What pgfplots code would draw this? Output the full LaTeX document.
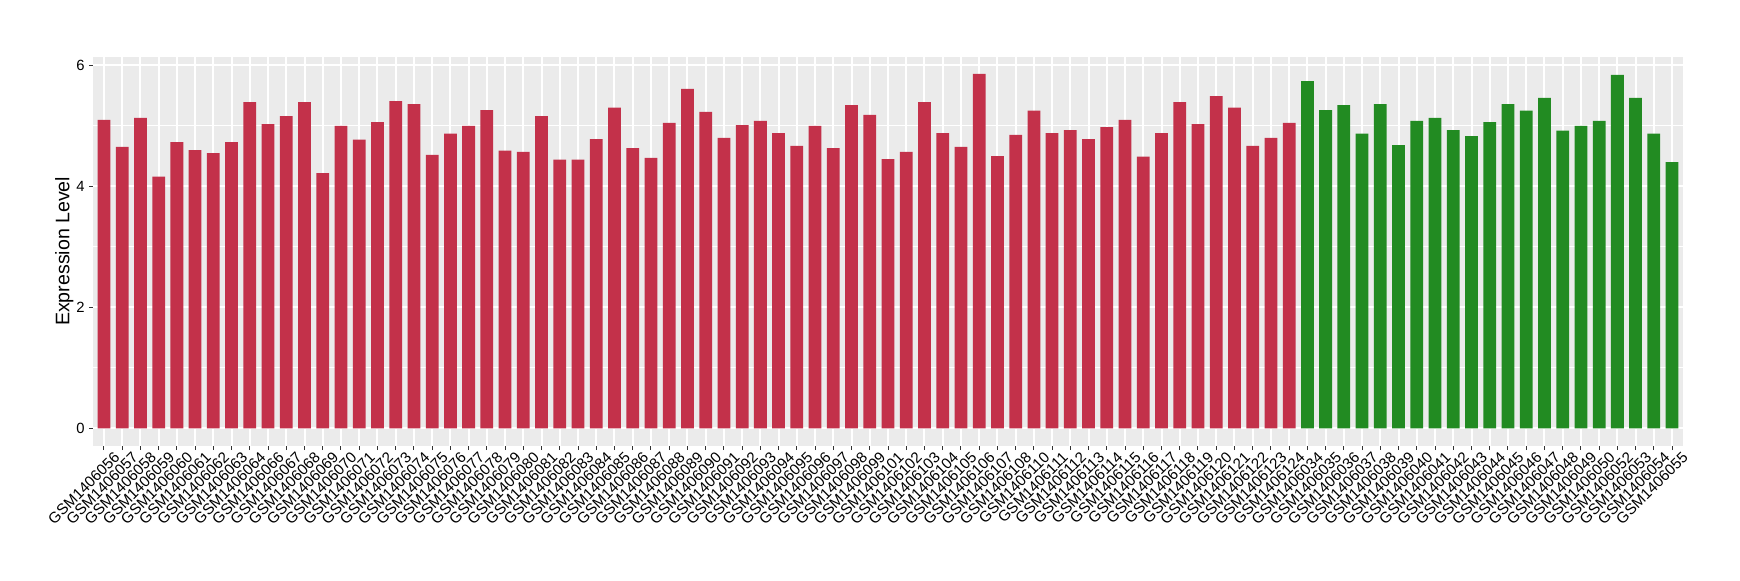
\documentclass[border=0pt]{standalone}
\usepackage{fontspec}
\setmainfont{Liberation Sans}
\usepackage{pgfplots}
\pgfplotsset{compat=1.18}

\definecolor{cRed}{HTML}{C3314A}
\definecolor{cGreen}{HTML}{228B22}
\definecolor{cPanel}{HTML}{EBEBEB}
\definecolor{cTick}{HTML}{333333}

\begin{document}
\begin{tikzpicture}
  % page = 1740 x 580 px at 0.5pt per px, origin at the panel's lower left
  \path[use as bounding box] (-46.5pt,-67pt) rectangle (823.5pt,223pt);
  \begin{axis}[
      at={(0,0)}, anchor=south west,
      scale only axis, width=795pt, height=194.65pt,
      xmin=-0.6, xmax=86.6, ymin=-0.2925, ymax=6.1425,
      axis background/.style={fill=cPanel},
      axis line style={draw=none},
      ytick={0,2,4,6}, minor ytick={1,3,5},
      xtick={0,...,86},
      xticklabels={GSM1406056,GSM1406057,GSM1406058,GSM1406059,GSM1406060,
        GSM1406061,GSM1406062,GSM1406063,GSM1406064,GSM1406066,GSM1406067,
        GSM1406068,GSM1406069,GSM1406070,GSM1406071,GSM1406072,GSM1406073,
        GSM1406074,GSM1406075,GSM1406076,GSM1406077,GSM1406078,GSM1406079,
        GSM1406080,GSM1406081,GSM1406082,GSM1406083,GSM1406084,GSM1406085,
        GSM1406086,GSM1406087,GSM1406088,GSM1406089,GSM1406090,GSM1406091,
        GSM1406092,GSM1406093,GSM1406094,GSM1406095,GSM1406096,GSM1406097,
        GSM1406098,GSM1406099,GSM1406101,GSM1406102,GSM1406103,GSM1406104,
        GSM1406105,GSM1406106,GSM1406107,GSM1406108,GSM1406110,GSM1406111,
        GSM1406112,GSM1406113,GSM1406114,GSM1406115,GSM1406116,GSM1406117,
        GSM1406118,GSM1406119,GSM1406120,GSM1406121,GSM1406122,GSM1406123,
        GSM1406124,GSM1406034,GSM1406035,GSM1406036,GSM1406037,GSM1406038,
        GSM1406039,GSM1406040,GSM1406041,GSM1406042,GSM1406043,GSM1406044,
        GSM1406045,GSM1406046,GSM1406047,GSM1406048,GSM1406049,GSM1406050,
        GSM1406052,GSM1406053,GSM1406054,GSM1406055},
      grid=both,
      major grid style={white, line width=1pt},
      minor grid style={white, line width=0.5pt},
      tick pos=left, tick align=outside,
      major tick length=2pt, minor tick length=0pt,
      tick style={cTick, line width=0.5pt},
      /pgf/number format/assume math mode=true,
      xticklabel style={font=\fontsize{7.6}{8}\selectfont, rotate=45,
        anchor=north east, inner sep=0pt, xshift=3pt, yshift=-3.5pt},
      yticklabel style={font=\fontsize{7.4}{8}\selectfont, anchor=east,
        inner sep=0pt, xshift=-2pt},
      ylabel={Expression Level},
      ylabel style={font=\fontsize{9.8}{10}\selectfont,
        at={(axis description cs:0,0.5)}, anchor=center, yshift=14.3pt},
    ]
    \addplot[ybar, bar width=0.7, bar shift=0pt, fill=cRed, draw=none]
      coordinates {
        (0,5.10) (1,4.65) (2,5.13) (3,4.16) (4,4.73) (5,4.60) (6,4.55)
        (7,4.73) (8,5.39) (9,5.03) (10,5.16) (11,5.39) (12,4.22) (13,5.00)
        (14,4.77) (15,5.06) (16,5.41) (17,5.36) (18,4.52) (19,4.87) (20,5.00)
        (21,5.26) (22,4.59) (23,4.57) (24,5.16) (25,4.44) (26,4.44) (27,4.78)
        (28,5.30) (29,4.63) (30,4.47) (31,5.05) (32,5.61) (33,5.23) (34,4.80)
        (35,5.01) (36,5.08) (37,4.88) (38,4.67) (39,5.00) (40,4.63) (41,5.34)
        (42,5.18) (43,4.45) (44,4.57) (45,5.39) (46,4.88) (47,4.65) (48,5.86)
        (49,4.50) (50,4.85) (51,5.25) (52,4.88) (53,4.93) (54,4.78) (55,4.98)
        (56,5.10) (57,4.49) (58,4.88) (59,5.39) (60,5.03) (61,5.49) (62,5.30)
        (63,4.67) (64,4.80) (65,5.05)
      };
    \addplot[ybar, bar width=0.7, bar shift=0pt, fill=cGreen, draw=none]
      coordinates {
        (66,5.74) (67,5.26) (68,5.34) (69,4.87) (70,5.36) (71,4.68) (72,5.08)
        (73,5.13) (74,4.93) (75,4.83) (76,5.06) (77,5.36) (78,5.25) (79,5.46)
        (80,4.92) (81,5.00) (82,5.08) (83,5.84) (84,5.46) (85,4.87) (86,4.40)
      };
  \end{axis}
\end{tikzpicture}
\end{document}
